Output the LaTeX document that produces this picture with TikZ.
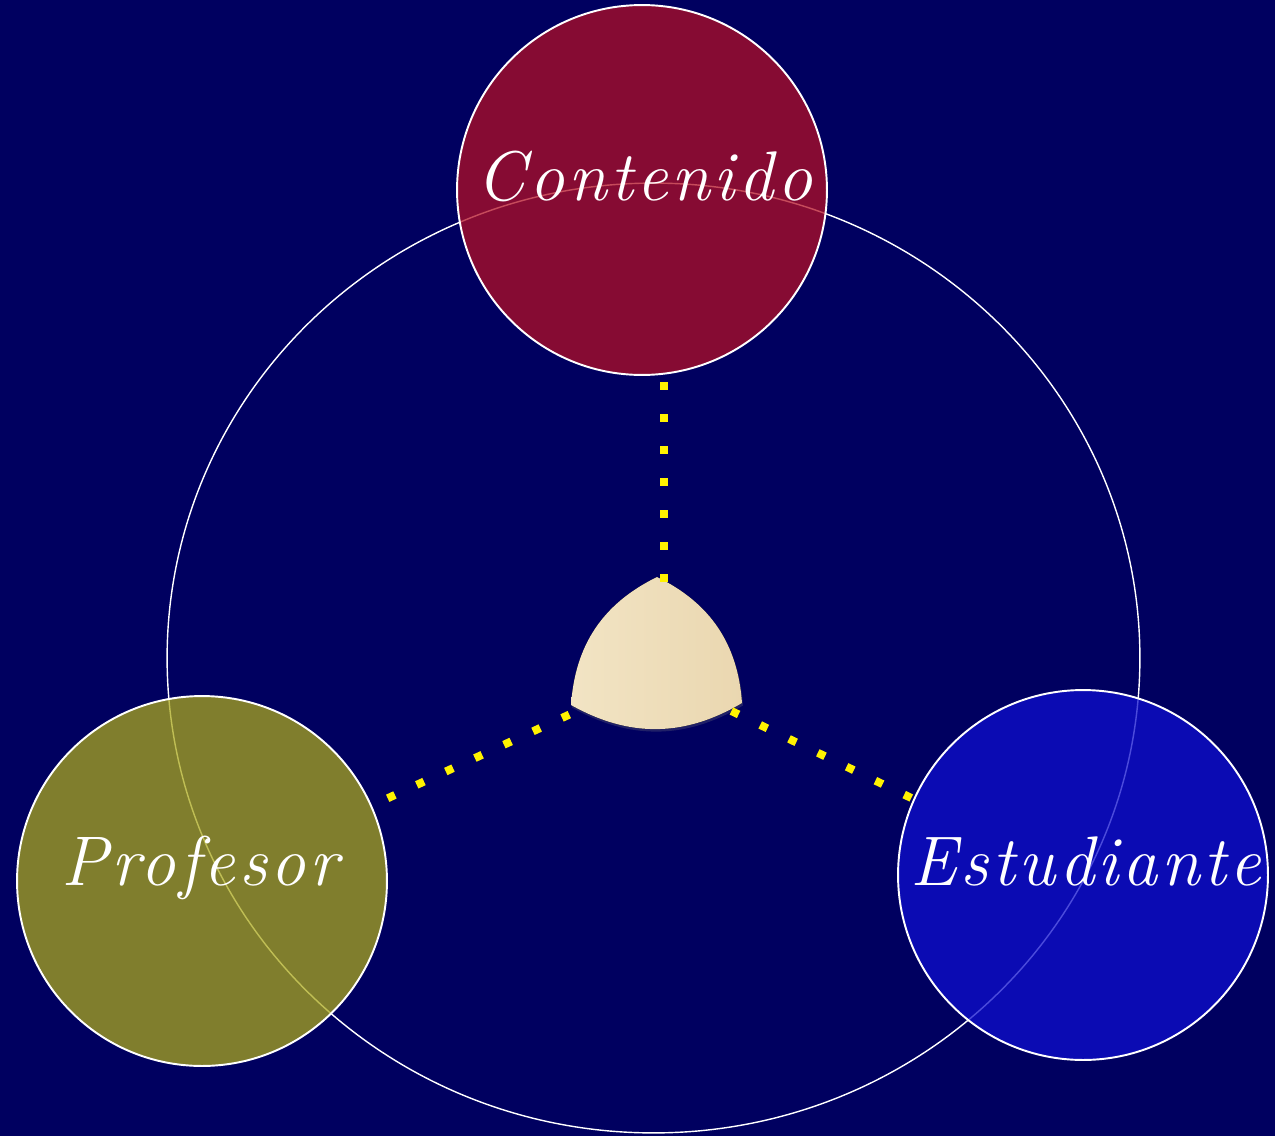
\documentclass[tikz,border=0pt]{standalone}
\usepackage{fontspec}
\usepackage{xcolor}
\usetikzlibrary{shadows}
\newfontfamily\namefont[LetterSpace=5]{Latin Modern Roman}

\definecolor{bgnavy}{RGB}{0,0,96}
\definecolor{conred}{RGB}{180,16,37}
\definecolor{profolive}{RGB}{171,169,28}
\definecolor{estblue}{RGB}{16,16,208}
\definecolor{cream}{RGB}{242,228,196}
\definecolor{creamdark}{RGB}{234,215,176}

\tikzset{
  topic/.style={circle, draw=white, line width=1.1pt, minimum size=7.4cm, inner sep=0pt, fill opacity=0.75},
  topicname/.style={text=white, anchor=base, font=\namefont\itshape\fontsize{40}{48}\selectfont},
  link/.style={yellow, line width=0.16cm, dash pattern=on 0.16cm off 0.48cm},
}

\begin{document}
\begin{tikzpicture}[x=0.02cm,y=-0.02cm]
\fill[bgnavy] (0,0) rectangle (1275,1136);
\useasboundingbox (0,0) rectangle (1275,1136);

\draw[white, line width=0.8pt] (653.5,658) ellipse (9.73cm and 9.5cm);

\node[topic, fill=conred] (contenido) at (642,190) {};
\node[topic, fill=profolive] (profesor) at (202,881) {};
\node[topic, fill=estblue] (estudiante) at (1083,875) {};

\node[topicname] (contenidoname) at (644.5,200) {Contenido};
\node[topicname] (profesorname) at (200,885) {Profesor};
\node[topicname] (estudiantename) at (1086,885) {Estudiante};

% centre piece
\coordinate (rtop) at (657,577);
\coordinate (rleft) at (571,705);
\coordinate (rright) at (742,703);
\fill[left color=cream, right color=creamdark, drop shadow={opacity=0.25, shadow xshift=0.02cm, shadow yshift=-0.05cm}]
  (rtop) to[bend right=30] (rleft) to[bend right=30] (rright) to[bend right=30] (rtop) -- cycle;

\coordinate (linkctop) at (663.7,581.7);
\coordinate (linkcend) at (663.7,381.7);
\coordinate (linkpstart) at (569.3,714.6);
\coordinate (linkpend) at (387.4,798.4);
\coordinate (linkestart) at (731.4,711);
\coordinate (linkeend) at (911.3,798);
\draw[link] (linkctop) -- (linkcend);
\draw[link] (linkpstart) -- (linkpend);
\draw[link] (linkestart) -- (linkeend);
\end{tikzpicture}
\end{document}
